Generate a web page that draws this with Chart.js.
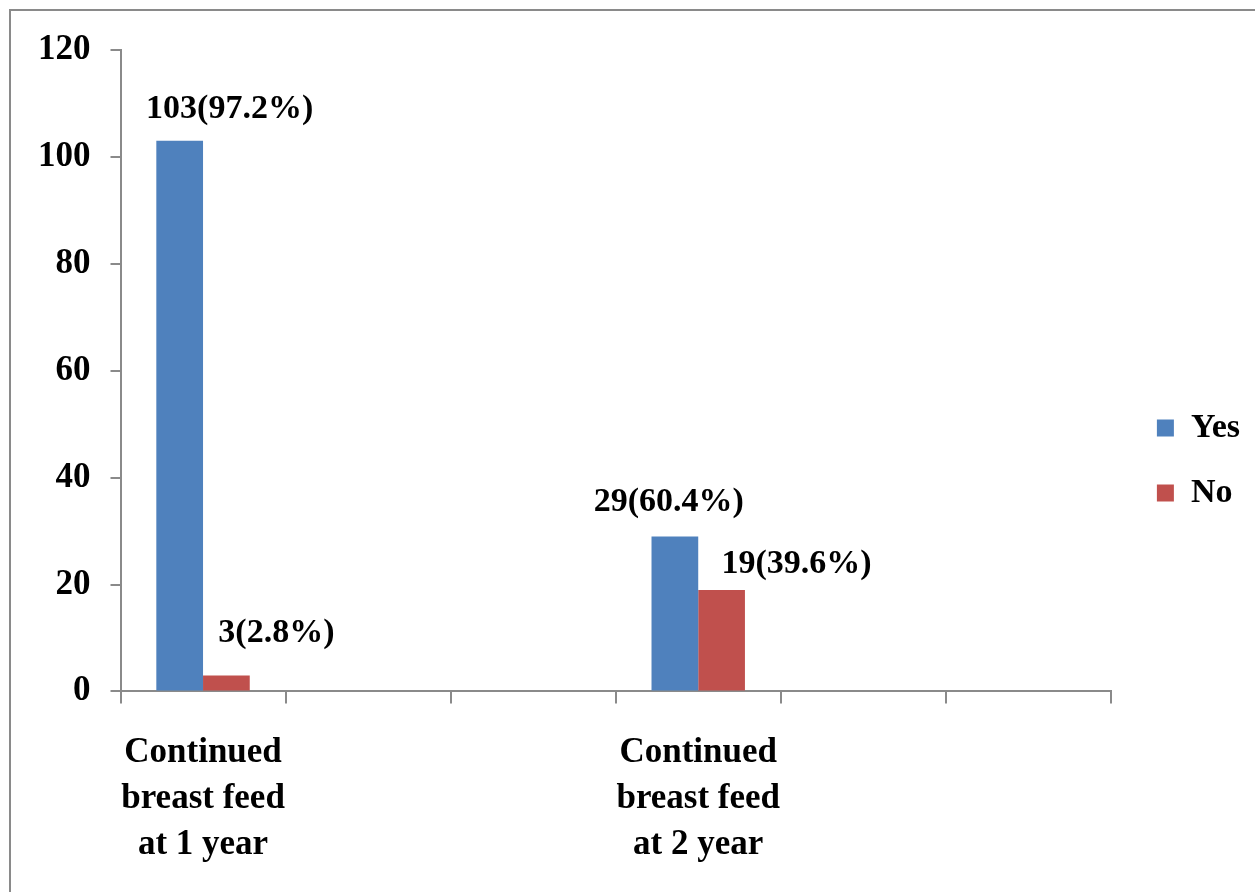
<!DOCTYPE html>
<html>
<head>
<meta charset="utf-8">
<script src="https://cdn.jsdelivr.net/npm/chart.js@4.4.1/dist/chart.umd.min.js"></script>
<style>
  html, body { margin: 0; padding: 0; background: #fff; overflow: hidden; }
  #wrap { position: absolute; left: 0; top: 0; width: 1255px; height: 892px; }
  #frame { position: absolute; left: 9px; top: 9px; width: 1300px; height: 950px;
           border-left: 2px solid #8a8a8a; border-top: 2px solid #8a8a8a; pointer-events: none; }
</style>
</head>
<body>
<div id="wrap"><canvas id="c" width="1255" height="892"></canvas></div>
<div id="frame"></div>
<script>
// ---- data ----
const categories = [
  ["Continued", "breast feed", "at 1 year"],
  "", "",
  ["Continued", "breast feed", "at 2 year"],
  "", ""
];
const yesValues = [103, null, null, 29, null, null];
const noValues  = [3, null, null, 19, null, null];
const yesLabels = ["103(97.2%)", "", "", "29(60.4%)", "", ""];
const noLabels  = ["3(2.8%)", "", "", "19(39.6%)", "", ""];
const seriesNames = ["Yes", "No"];
const yTicks = { min: 0, max: 120, step: 20 };

const FONT = "'Liberation Serif', 'Times New Roman', serif";
const AXIS = '#8a8a8a';

const labelPlugin = {
  id: 'barLabels',
  afterDatasetsDraw(chart, args, opts) {
    const ctx = chart.ctx;
    ctx.save();
    ctx.font = 'bold 34px ' + FONT;
    ctx.fillStyle = '#000';
    ctx.textAlign = 'center';
    ctx.textBaseline = 'middle';
    chart.data.datasets.forEach((ds, di) => {
      const meta = chart.getDatasetMeta(di);
      const texts = opts.texts[di];
      meta.data.forEach((bar, i) => {
        const t = texts[i];
        if (!t) return;
        const sh = opts.shift[di][i] || {dx: 0, dy: 34};
        ctx.fillText(t, bar.x + sh.dx, bar.y - sh.dy);
      });
    });
    ctx.restore();
  }
};

// nudge the legend box (position only) after layout
const legendNudge = {
  id: 'legendNudge',
  afterLayout(chart, args, opts) {
    const lg = chart.legend;
    if (!lg) return;
    lg.left += opts.dx; lg.right += opts.dx;
    lg.top += opts.dy; lg.bottom += opts.dy;
  }
};

new Chart(document.getElementById('c'), {
  type: 'bar',
  data: {
    labels: categories,
    datasets: [
      { label: seriesNames[0], data: yesValues, backgroundColor: '#4F81BD', borderWidth: 0 },
      { label: seriesNames[1], data: noValues,  backgroundColor: '#C0504D', borderWidth: 0 }
    ]
  },
  plugins: [labelPlugin, legendNudge],
  options: {
    responsive: false,
    animation: false,
    devicePixelRatio: 1,
    layout: { padding: { left: 18, top: 50, right: 20, bottom: -3 } },
    datasets: { bar: { barPercentage: 1.0, categoryPercentage: 0.566 } },
    scales: {
      x: {
        offset: true,
        grid: { display: true, drawOnChartArea: false, drawTicks: true, tickLength: 12, offset: true, color: AXIS, lineWidth: 2 },
        border: { display: true, color: AXIS, width: 2 },
        ticks: { color: '#000', font: { family: FONT, size: 35, weight: 'bold', lineHeight: 1.31 }, padding: 27, maxRotation: 0, autoSkip: false }
      },
      y: {
        min: yTicks.min, max: yTicks.max,
        grid: { display: true, drawOnChartArea: false, drawTicks: true, tickLength: 10, color: AXIS, lineWidth: 2 },
        border: { display: true, color: AXIS, width: 2 },
        ticks: { stepSize: yTicks.step, color: '#000', font: { family: FONT, size: 35, weight: 'bold' }, padding: 20 }
      }
    },
    plugins: {
      tooltip: { enabled: false },
      legend: {
        position: 'right',
        align: 'center',
        labels: { boxWidth: 17, boxHeight: 17, padding: 31, color: '#000', font: { family: FONT, size: 34, weight: 'bold' } }
      },
      legendNudge: { dx: 15, dy: -12 },
      barLabels: {
        texts: [yesLabels, noLabels],
        shift: [
          { 0: {dx: 50, dy: 32}, 3: {dx: -6, dy: 34} },
          { 0: {dx: 50, dy: 42}, 3: {dx: 75, dy: 26} }
        ]
      }
    }
  }
});
</script>
</body>
</html>
